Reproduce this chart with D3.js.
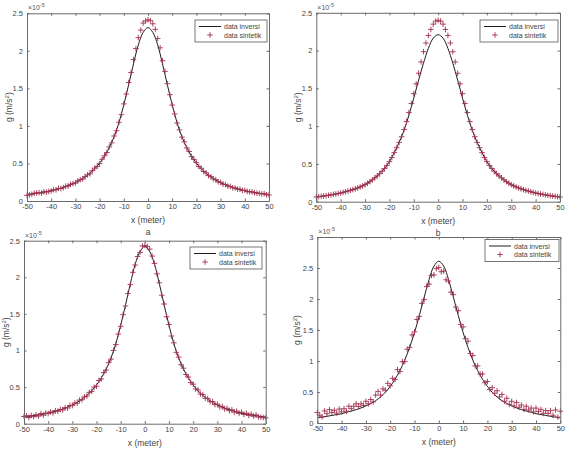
<!DOCTYPE html>
<html>
<head>
<meta charset="utf-8">
<script src="https://cdn.jsdelivr.net/npm/d3@7"></script>
<style>
    body { margin: 0; background: #fff; }
    svg { display: block; font-family: "Liberation Sans", Arial, sans-serif; }
    .axis text { fill: #444; font-size: 7.5px; }
    .axis path, .axis line { stroke: #6a6a6a; }
</style>
</head>
<body>
<svg id="fig" width="566" height="452"></svg>
<script>
// posisi titik data sintetik (meter)
var xMarkers = [-50, -49, -48, -47, -46, -45, -44, -43, -42, -41, -40, -39, -38, -37, -36, -35, -34, -33, -32, -31,
    -30, -29, -28, -27, -26, -25, -24, -23, -22, -21, -20, -19, -18, -17, -16, -15, -14, -13, -12, -11,
    -10, -9, -8, -7, -6, -5, -4, -3, -2, -1, 0, 1, 2, 3, 4, 5, 6, 7, 8, 9,
    10, 11, 12, 13, 14, 15, 16, 17, 18, 19, 20, 21, 22, 23, 24, 25, 26, 27, 28, 29,
    30, 31, 32, 33, 34, 35, 36, 37, 38, 39, 40, 41, 42, 43, 44, 45, 46, 47, 48, 49, 50];

// posisi kurva data inversi (meter)
var xLine = [-50, -48, -46, -44, -42, -40, -38, -36, -34, -32, -30, -28, -26, -24, -22, -20, -18, -16, -14, -12,
    -10, -8, -6, -4, -2, 0, 2, 4, 6, 8, 10, 12, 14, 16, 18, 20, 22, 24, 26, 28,
    30, 32, 34, 36, 38, 40, 42, 44, 46, 48, 50];

// nilai g (x 1e-5 m/s^2)
var lineA = [0.087, 0.095, 0.104, 0.114, 0.125, 0.138, 0.153, 0.171, 0.191, 0.215, 0.244, 0.278, 0.319, 0.369, 0.430,
    0.504, 0.597, 0.713, 0.857, 1.044, 1.282, 1.548, 1.825, 2.079, 2.245, 2.310, 2.245, 2.079, 1.825, 1.548,
    1.282, 1.044, 0.857, 0.713, 0.597, 0.504, 0.430, 0.369, 0.319, 0.278, 0.244, 0.215, 0.191, 0.171, 0.153,
    0.138, 0.125, 0.114, 0.104, 0.095, 0.087];
var markA = [0.075, 0.082, 0.090, 0.103, 0.108, 0.112, 0.105, 0.124, 0.118, 0.127,
    0.133, 0.151, 0.149, 0.168, 0.165, 0.178, 0.197, 0.199, 0.222, 0.231,
    0.240, 0.268, 0.283, 0.292, 0.327, 0.349, 0.362, 0.404, 0.438, 0.459,
    0.497, 0.556, 0.602, 0.646, 0.720, 0.775, 0.866, 0.936, 1.048, 1.150,
    1.293, 1.425, 1.578, 1.712, 1.884, 2.030, 2.176, 2.276, 2.370, 2.398,
    2.414,
    2.402, 2.360, 2.286, 2.164, 2.040, 1.868, 1.726, 1.562, 1.416, 1.278,
    1.160, 1.039, 0.947, 0.851, 0.788, 0.707, 0.659, 0.592, 0.553, 0.510,
    0.460, 0.436, 0.393, 0.375, 0.338, 0.324, 0.294, 0.284, 0.255, 0.249,
    0.224, 0.219, 0.198, 0.195, 0.177, 0.174, 0.158, 0.157, 0.141, 0.142,
    0.127, 0.121, 0.123, 0.110, 0.104, 0.100, 0.094, 0.098, 0.083, 0.080];

var lineB = [0.063, 0.071, 0.080, 0.090, 0.102, 0.115, 0.132, 0.150, 0.170, 0.195, 0.225, 0.265, 0.315, 0.370, 0.440,
    0.530, 0.650, 0.785, 0.945, 1.145, 1.370, 1.610, 1.835, 2.030, 2.165, 2.210, 2.165, 2.030, 1.835, 1.610,
    1.370, 1.145, 0.945, 0.785, 0.650, 0.530, 0.440, 0.370, 0.315, 0.265, 0.225, 0.195, 0.170, 0.150, 0.132,
    0.115, 0.102, 0.090, 0.080, 0.071, 0.063];
var markB = [0.063, 0.067, 0.071, 0.075, 0.080, 0.085, 0.090, 0.096, 0.102, 0.108,
    0.115, 0.123, 0.132, 0.141, 0.150, 0.160, 0.170, 0.182, 0.195, 0.209,
    0.225, 0.244, 0.265, 0.289, 0.315, 0.341, 0.370, 0.403, 0.440, 0.480,
    0.530, 0.585, 0.650, 0.715, 0.785, 0.860, 0.955, 1.060, 1.180, 1.300,
    1.430, 1.560, 1.700, 1.850, 1.985, 2.100, 2.200, 2.280, 2.350, 2.390,
    2.400,
    2.390, 2.350, 2.280, 2.200, 2.100, 1.985, 1.850, 1.700, 1.560, 1.430,
    1.300, 1.180, 1.060, 0.955, 0.860, 0.785, 0.715, 0.650, 0.585, 0.530,
    0.480, 0.440, 0.403, 0.370, 0.341, 0.315, 0.289, 0.265, 0.244, 0.225,
    0.209, 0.195, 0.182, 0.170, 0.160, 0.150, 0.141, 0.132, 0.123, 0.115,
    0.108, 0.102, 0.096, 0.090, 0.085, 0.080, 0.075, 0.071, 0.067, 0.063];

var lineC = [0.091, 0.099, 0.109, 0.119, 0.131, 0.145, 0.160, 0.179, 0.200, 0.226, 0.256, 0.291, 0.334, 0.386, 0.450,
    0.529, 0.626, 0.747, 0.898, 1.094, 1.343, 1.621, 1.912, 2.178, 2.352, 2.420, 2.352, 2.178, 1.912, 1.621,
    1.343, 1.094, 0.898, 0.747, 0.626, 0.529, 0.450, 0.386, 0.334, 0.291, 0.256, 0.226, 0.200, 0.179, 0.160,
    0.145, 0.131, 0.119, 0.109, 0.099, 0.091];
var markC = [0.098, 0.110, 0.085, 0.112, 0.096, 0.121, 0.104, 0.138, 0.117, 0.145,
    0.139, 0.161, 0.148, 0.178, 0.170, 0.195, 0.188, 0.219, 0.214, 0.249,
    0.247, 0.282, 0.279, 0.323, 0.327, 0.368, 0.377, 0.428, 0.441, 0.499,
    0.512, 0.591, 0.612, 0.698, 0.733, 0.834, 0.882, 1.001, 1.081, 1.224,
    1.331, 1.490, 1.608, 1.779, 1.900, 2.068, 2.167, 2.284, 2.340, 2.428,
    2.435,
    2.421, 2.385, 2.290, 2.190, 2.047, 1.925, 1.755, 1.635, 1.462, 1.355,
    1.198, 1.105, 0.975, 0.909, 0.806, 0.758, 0.672, 0.637, 0.563, 0.540,
    0.475, 0.461, 0.405, 0.397, 0.348, 0.345, 0.301, 0.302, 0.261, 0.267,
    0.229, 0.237, 0.201, 0.211, 0.178, 0.190, 0.158, 0.171, 0.141, 0.156,
    0.126, 0.142, 0.114, 0.130, 0.103, 0.120, 0.093, 0.088, 0.084, 0.080];

var lineD = [0.082, 0.095, 0.108, 0.122, 0.136, 0.150, 0.173, 0.193, 0.216, 0.243, 0.276, 0.314, 0.360, 0.420, 0.495,
    0.590, 0.705, 0.845, 1.015, 1.220, 1.460, 1.735, 2.030, 2.315, 2.530, 2.610, 2.530, 2.315, 2.030, 1.735,
    1.460, 1.220, 1.015, 0.845, 0.705, 0.590, 0.495, 0.420, 0.360, 0.314, 0.276, 0.243, 0.216, 0.193, 0.173,
    0.150, 0.136, 0.122, 0.108, 0.095, 0.082];
var markD = [0.17, 0.125, 0.10, 0.195, 0.15, 0.215, 0.17, 0.205, 0.16, 0.225,
    0.18, 0.23, 0.19, 0.27, 0.23, 0.27, 0.31, 0.265, 0.31, 0.285,
    0.35, 0.31, 0.38, 0.34, 0.45, 0.51, 0.45, 0.55, 0.53, 0.64,
    0.60, 0.72, 0.70, 0.86, 0.83, 0.99, 0.99, 1.19, 1.22, 1.42,
    1.47, 1.67, 1.72, 1.93, 1.99, 2.20, 2.24, 2.38, 2.39, 2.49,
    2.51,
    2.44, 2.45, 2.31, 2.29, 2.11, 2.07, 1.87, 1.81, 1.59, 1.55,
    1.36, 1.32, 1.12, 1.09, 0.92, 0.92, 0.79, 0.79, 0.65, 0.67,
    0.54, 0.57, 0.48, 0.52, 0.42, 0.46, 0.35, 0.40, 0.30, 0.35,
    0.275, 0.33, 0.255, 0.29, 0.22, 0.27, 0.21, 0.24, 0.18, 0.24,
    0.185, 0.22, 0.155, 0.20, 0.155, 0.20, 0.125, 0.21, 0.095, 0.19];

var xTicks = [-50, -40, -30, -20, -10, 0, 10, 20, 30, 40, 50];
var yTicks25 = [0, 0.5, 1, 1.5, 2, 2.5];
var yTicks3 = [0, 0.5, 1, 1.5, 2, 2.5, 3];
var legendNames = ["data inversi", "data sintetik"];
var captions = ["a", "b", "", ""];

var lineColor = "#1e1e1e";
var markColor = "#a3304f";
var plus = "M-2.8,0H2.8M0,-2.8V2.8";

var svg = d3.select("#fig");

function drawPanel(p, lineVals, markVals, yTicks, ymax, caption) {
    var x = d3.scaleLinear().domain([-50, 50]).range([p.left, p.right]);
    var y = d3.scaleLinear().domain([0, ymax]).range([p.bottom, p.top]);
    var g = svg.append("g");

    // garis data inversi
    var line = d3.line()
        .x(function (d, i) { return x(xLine[i]); })
        .y(function (d) { return y(d); })
        .curve(d3.curveCatmullRom);
    g.append("path")
        .datum(lineVals)
        .attr("d", line)
        .attr("fill", "none")
        .attr("stroke", lineColor)
        .attr("stroke-width", 1);

    // titik data sintetik (+)
    g.selectAll(".mk")
        .data(markVals)
        .enter()
        .append("path")
        .attr("class", "mk")
        .attr("d", plus)
        .attr("transform", function (d, i) { return "translate(" + x(xMarkers[i]) + "," + y(d) + ")"; })
        .attr("stroke", markColor)
        .attr("stroke-width", 0.9)
        .attr("fill", "none");

    var fmt = function (d) { return String(d); };

    g.append("g").attr("class", "axis")
        .attr("transform", "translate(0," + p.bottom + ")")
        .call(d3.axisBottom(x).tickValues(xTicks).tickFormat(fmt).tickSizeInner(-2.5).tickSizeOuter(0).tickPadding(3));
    g.append("g").attr("class", "axis")
        .attr("transform", "translate(0," + p.top + ")")
        .call(d3.axisTop(x).tickValues(xTicks).tickFormat("").tickSizeInner(-2.5).tickSizeOuter(0));
    g.append("g").attr("class", "axis")
        .attr("transform", "translate(" + p.left + ",0)")
        .call(d3.axisLeft(y).tickValues(yTicks).tickFormat(fmt).tickSizeInner(-2.5).tickSizeOuter(0).tickPadding(4));
    g.append("g").attr("class", "axis")
        .attr("transform", "translate(" + p.right + ",0)")
        .call(d3.axisRight(y).tickValues(yTicks).tickFormat("").tickSizeInner(-2.5).tickSizeOuter(0));

    // faktor pengali
    var ex = g.append("text")
        .attr("x", p.left + 1)
        .attr("y", p.top - 3)
        .attr("fill", "#555")
        .style("font-size", "7px");
    ex.append("tspan").text("\u00d710");
    ex.append("tspan").attr("dy", -3).style("font-size", "5.5px").text("-5");

    // label sumbu
    g.append("text")
        .attr("x", (p.left + p.right) / 2)
        .attr("y", p.bottom + 22)
        .attr("text-anchor", "middle")
        .attr("fill", "#444")
        .style("font-size", "8.5px")
        .text("x (meter)");

    var yl = g.append("text")
        .attr("transform", "translate(" + p.ylx + "," + ((p.top + p.bottom) / 2) + ") rotate(-90)")
        .attr("text-anchor", "middle")
        .attr("fill", "#444")
        .style("font-size", "8.5px");
    yl.append("tspan").text("g (m/s");
    yl.append("tspan").attr("dy", -3).style("font-size", "6px").text("2");
    yl.append("tspan").attr("dy", 3).text(")");

    // legenda
    var lg = g.append("g").attr("transform", "translate(" + p.lgx + "," + p.lgy + ")");
    lg.append("rect")
        .attr("width", p.lgw)
        .attr("height", 22)
        .attr("fill", "#fff")
        .attr("stroke", "#555")
        .attr("stroke-width", 0.8);
    lg.append("line")
        .attr("x1", 4).attr("x2", 26)
        .attr("y1", 6.5).attr("y2", 6.5)
        .attr("stroke", lineColor);
    lg.append("path")
        .attr("d", plus)
        .attr("transform", "translate(15,15)")
        .attr("stroke", markColor)
        .attr("stroke-width", 0.9);
    lg.selectAll(".lt")
        .data(legendNames)
        .enter()
        .append("text")
        .attr("class", "lt")
        .attr("x", 29)
        .attr("y", function (d, i) { return 9 + i * 8.5; })
        .attr("fill", "#444")
        .style("font-size", "7px")
        .text(function (d) { return d; });

    if (caption) {
        g.append("text")
            .attr("x", (p.left + p.right) / 2)
            .attr("y", p.bottom + 34)
            .attr("text-anchor", "middle")
            .attr("fill", "#444")
            .style("font-size", "8.5px")
            .text(caption);
    }
}

drawPanel({ left: 27, right: 269, top: 13.3, bottom: 201, ylx: 12, lgx: 195, lgy: 20, lgw: 72 }, lineA, markA, yTicks25, 2.5, captions[0]);
drawPanel({ left: 316.3, right: 560, top: 12.8, bottom: 201.7, ylx: 301, lgx: 480, lgy: 20, lgw: 78 }, lineB, markB, yTicks25, 2.5, captions[1]);
drawPanel({ left: 24, right: 265.7, top: 240.7, bottom: 423.7, ylx: 8.5, lgx: 190, lgy: 247, lgw: 72 }, lineC, markC, yTicks25, 2.5, captions[2]);
drawPanel({ left: 317.3, right: 560.3, top: 237, bottom: 423, ylx: 300, lgx: 485, lgy: 239.5, lgw: 74 }, lineD, markD, yTicks3, 3, captions[3]);
</script>
</body>
</html>
